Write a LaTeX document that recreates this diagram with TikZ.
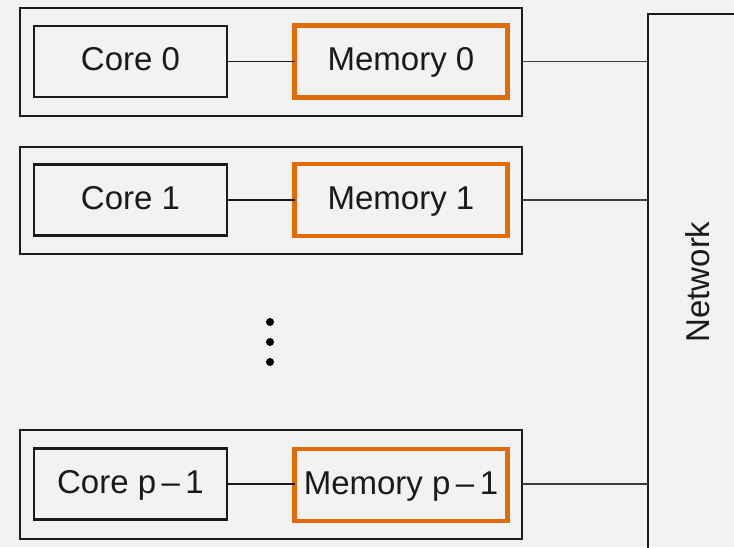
\documentclass[tikz,border=0pt]{standalone}
\usepackage{fontspec}
\setmainfont{Liberation Sans}
\definecolor{bg}{HTML}{F2F2F2}
\definecolor{memorange}{RGB}{227,108,10}
\definecolor{ink}{HTML}{1A1A1A}
\begin{document}
\begin{tikzpicture}[x=1pt,y=-1pt,
  every node/.style={inner sep=0pt, outer sep=0pt},
  label text/.style={font=\fontsize{33}{38}\selectfont, text=ink, text height=24pt, text depth=5.6pt},
  nodebox/.style={draw=ink, line width=2pt},
  corebox/.style={draw=ink, line width=2.2pt, minimum width=193pt, minimum height=71pt, label text},
  membox/.style={draw=memorange, line width=4.5pt, minimum width=213pt, minimum height=72pt, label text},
  link/.style={draw=ink, line width=2.2pt},
  netlink/.style={draw=ink!85, line width=1.8pt},
  dotmark/.style={circle, fill=black, minimum size=8pt}]
\useasboundingbox (0,0) rectangle (734,547);
\fill[bg] (0,0) rectangle (734,547);
\clip (0,0) rectangle (734,547);

% network bar on the right, running off the page
\node[draw=ink, line width=2.2pt, minimum width=200pt, minimum height=700pt, anchor=north west] (net) at (648,14) {};
\node[font=\fontsize{33}{38}\selectfont, text=ink, rotate=90] (nettext) at (698,282) {Network};

% processor 0
\node[nodebox, minimum width=502pt, minimum height=108pt] (node0) at (270.5,61.75) {};
\node[corebox] (core0) at (130.5,61.5) {Core 0};
\node[membox] (mem0) at (401,61.5) {Memory 0};

% processor 1
\node[nodebox, minimum width=502pt, minimum height=107pt] (node1) at (270.5,200.5) {};
\node[corebox] (core1) at (130.5,200) {Core 1};
\node[membox] (mem1) at (401,200) {Memory 1};

% processor p-1
\node[nodebox, minimum width=502pt, minimum height=109pt] (nodep) at (270.5,484) {};
\node[corebox] (corep) at (130.5,484) {Core p\,--\,1};
\node[membox] (memp) at (401,485) {Memory p\,--\,1};

% ellipsis between the processors
\node[dotmark] (dot1) at (270,322) {};
\node[dotmark] (dot2) at (270,342) {};
\node[dotmark] (dot3) at (270,362) {};

% core to memory
\draw[link, line width=1.8pt] (core0.east) -- (core0.east -| mem0.west);
\draw[link] (core1.east) -- (core1.east -| mem1.west);
\draw[link] (corep.east) -- (corep.east -| memp.west);

% processors to network
\draw[netlink] (node0.east |- mem0) -- (net.west |- mem0);
\draw[netlink] (node1.east |- mem1) -- (net.west |- mem1);
\draw[netlink] (nodep.east |- corep) -- (net.west |- corep);
\end{tikzpicture}
\end{document}
